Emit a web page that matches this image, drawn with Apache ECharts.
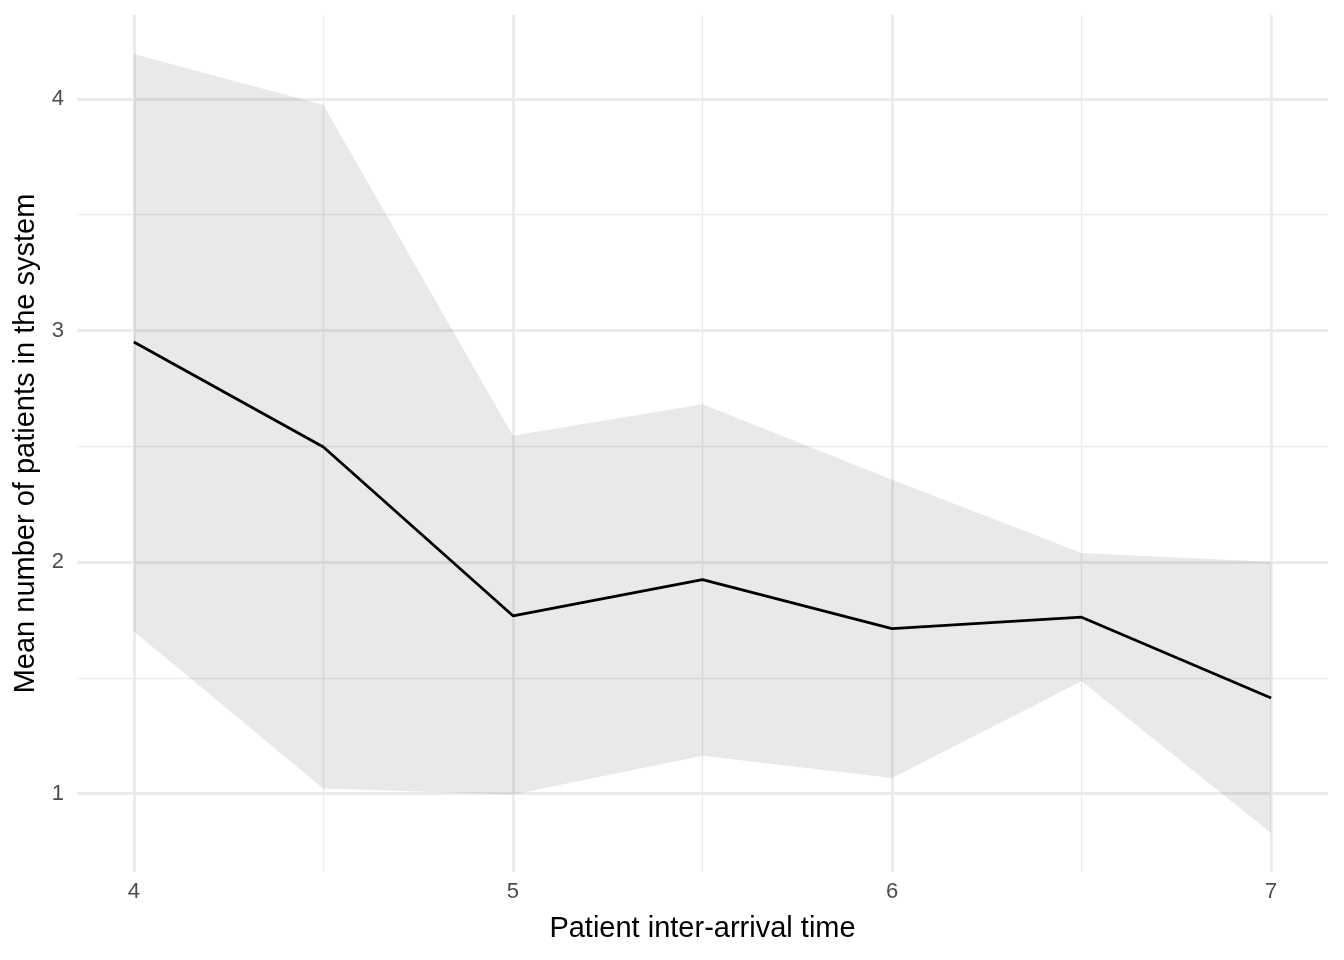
<!DOCTYPE html>
<html>
<head>
<meta charset="utf-8">
<script src="https://cdn.jsdelivr.net/npm/echarts@6/dist/echarts.min.js"></script>
<style>
html,body{margin:0;padding:0;background:#fff;}
#chart{width:1344px;height:960px;}
</style>
</head>
<body>
<div id="chart"></div>
<script>
// Data
const interArrival = [4, 4.5, 5, 5.5, 6, 6.5, 7];
const meanPatients = [2.950, 2.497, 1.768, 1.924, 1.713, 1.762, 1.413];
const upperBound   = [4.194, 3.974, 2.545, 2.682, 2.355, 2.039, 2.000];
const lowerBound   = [1.700, 1.022, 0.996, 1.164, 1.068, 1.485, 0.830];

const xMajorTicks = [4, 5, 6, 7];
const xMinorTicks = [4.5, 5.5, 6.5];
const yMajorTicks = [1, 2, 3, 4];
const yMinorTicks = [1.5, 2.5, 3.5];

// ggplot-like 5% expansion of the axis ranges
const xLo = Math.min(...interArrival), xHi = Math.max(...interArrival);
const xPad = 0.05 * (xHi - xLo);
const yLo = Math.min(...lowerBound), yHi = Math.max(...upperBound);
const yPad = 0.05 * (yHi - yLo);

const FONT = '"Liberation Sans", Arial, Helvetica, sans-serif';
const GRID = '#EBEBEB';

const bandData = interArrival.map((x, i) => [x, lowerBound[i], upperBound[i]]);
const meanData = interArrival.map((x, i) => [x, meanPatients[i]]);

const chart = echarts.init(document.getElementById('chart'), null, {renderer: 'canvas'});

const baseX = {
  type: 'value', gridIndex: 0, min: xLo - xPad, max: xHi + xPad,
  axisLine: {show: false}
};
const baseY = {
  type: 'value', gridIndex: 0, min: yLo - yPad, max: yHi + yPad,
  axisLine: {show: false}
};

function renderBand(params, api) {
  if (params.dataIndexInside !== 0) return null;
  const n = params.dataInsideLength;
  const pts = [];
  for (let i = 0; i < n; i++) pts.push(api.coord([api.value(0, i), api.value(2, i)]));
  for (let i = n - 1; i >= 0; i--) pts.push(api.coord([api.value(0, i), api.value(1, i)]));
  return {
    type: 'polygon',
    shape: {points: pts},
    style: {fill: 'rgba(51,51,51,0.11)', stroke: null}
  };
}

chart.setOption({
  animation: false,
  backgroundColor: '#ffffff',
  grid: {left: 77, right: 16, top: 15, bottom: 88, containLabel: false},
  xAxis: [
    Object.assign({}, baseX, {
      name: 'Patient inter-arrival time',
      nameLocation: 'middle',
      nameGap: 42,
      nameTextStyle: {fontFamily: FONT, fontSize: 29, color: '#000000'},
      axisTick: {show: false, customValues: xMajorTicks},
      axisLabel: {show: true, customValues: xMajorTicks, fontFamily: FONT, fontSize: 22,
                  color: '#4D4D4D', margin: 9, formatter: v => String(v)},
      splitLine: {show: true, lineStyle: {color: GRID, width: 2.8}}
    }),
    Object.assign({}, baseX, {
      axisTick: {show: false, customValues: xMinorTicks},
      axisLabel: {show: false, customValues: xMinorTicks},
      splitLine: {show: true, lineStyle: {color: GRID, width: 1.4}}
    })
  ],
  yAxis: [
    Object.assign({}, baseY, {
      name: 'Mean number of patients in the system',
      nameLocation: 'middle',
      nameGap: 35,
      nameRotate: 90,
      nameTextStyle: {fontFamily: FONT, fontSize: 29, color: '#000000'},
      axisTick: {show: false, customValues: yMajorTicks},
      axisLabel: {show: true, customValues: yMajorTicks, fontFamily: FONT, fontSize: 22,
                  color: '#4D4D4D', margin: 13, formatter: v => String(v)},
      splitLine: {show: true, lineStyle: {color: GRID, width: 2.8}}
    }),
    Object.assign({}, baseY, {
      axisTick: {show: false, customValues: yMinorTicks},
      axisLabel: {show: false, customValues: yMinorTicks},
      splitLine: {show: true, lineStyle: {color: GRID, width: 1.4}}
    })
  ],
  series: [
    {
      name: 'band', type: 'custom', xAxisIndex: 0, yAxisIndex: 0,
      data: bandData, silent: true, renderItem: renderBand,
      encode: {x: 0, y: [1, 2]}, z: 2
    },
    {
      name: 'mean', type: 'line', xAxisIndex: 0, yAxisIndex: 0,
      data: meanData, symbol: 'none', z: 5,
      lineStyle: {color: '#000000', width: 2.8}
    }
  ]
});
</script>
</body>
</html>
